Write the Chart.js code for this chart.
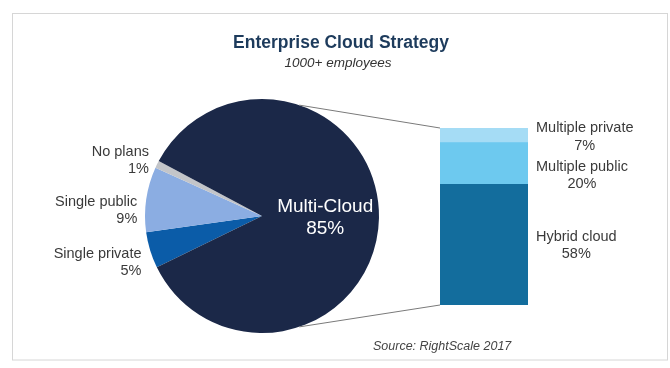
<!DOCTYPE html>
<html><head><meta charset="utf-8">
<script src="https://cdn.jsdelivr.net/npm/chart.js@4"></script>
<style>
html,body{margin:0;padding:0;background:#fff;}
#wrap{position:relative;width:670px;height:368px;overflow:hidden;}
canvas{position:absolute;left:0;top:0;}
</style></head><body>
<div id="wrap"><canvas id="pie" width="670" height="368"></canvas><canvas id="bar" width="670" height="368"></canvas></div>
<script>
// ---- data ----
const pieLabels = ['Single private', 'Single public', 'No plans', 'Multi-Cloud'];
const pieValues = [5, 9, 1, 85];
const pieColors = ['#0b5ca8', '#8badE2', '#c3c5c9', '#1b2848'];
const barLabels = ['Hybrid cloud', 'Multiple public', 'Multiple private'];
const barValues = [58, 20, 7];
const barColors = ['#136d9d', '#6dc9ef', '#a5dcf5'];
const titleText = 'Enterprise Cloud Strategy';
const subtitleText = '1000+ employees';
const sourceText = 'Source: RightScale 2017';

const TEXT = '#3a3a3a';
const FONT = '"Liberation Sans", Arial, sans-serif';
let pieChart;

function arcGeom(chart) {
  const a = chart.getDatasetMeta(0).data[0];
  return {x: a.x, y: a.y, r: a.outerRadius};
}

const piePlugin = {
  id: 'pieDecor',
  afterDraw(chart) {
    const ctx = chart.ctx;
    ctx.save();
    // frame
    ctx.strokeStyle = '#d6d6d6';
    ctx.lineWidth = 1;
    ctx.strokeRect(12.5, 13.5, 655, 346.5);
    // title
    ctx.fillStyle = '#1d3b5c';
    ctx.textAlign = 'center';
    ctx.textBaseline = 'middle';
    ctx.font = 'bold 17.5px ' + FONT;
    ctx.fillText(titleText, 341, 43);
    ctx.fillStyle = '#333';
    ctx.font = 'italic 13.5px ' + FONT;
    ctx.fillText(subtitleText, 338, 63);

    // slice labels
    const meta = chart.getDatasetMeta(0);
    const g = arcGeom(chart);
    const nudge = [10, 12, 0];
    ctx.font = '14.5px ' + FONT;
    meta.data.forEach((arc, i) => {
      const mid = (arc.startAngle + arc.endAngle) / 2;
      const pct = pieValues[i] + '%';
      if (i === pieValues.length - 1) {
        const cx = g.x + Math.cos(mid) * g.r * 0.54;
        const cy = g.y + Math.sin(mid) * g.r * 0.54;
        ctx.fillStyle = '#ffffff';
        ctx.textAlign = 'center';
        ctx.font = '19px ' + FONT;
        ctx.fillText(pieLabels[i], cx, cy - 10);
        ctx.fillText(pct, cx, cy + 12);
        ctx.font = '14.5px ' + FONT;
        return;
      }
      const lx = g.x + Math.cos(mid) * (g.r + 9);
      const ly = g.y + Math.sin(mid) * (g.r + 9) + nudge[i];
      ctx.fillStyle = TEXT;
      ctx.textAlign = 'right';
      ctx.fillText(pieLabels[i], lx, ly - 8.5);
      ctx.fillText(pct, lx, ly + 8.5);
    });
    ctx.restore();
  }
};

const barPlugin = {
  id: 'barDecor',
  afterDraw(chart) {
    const ctx = chart.ctx;
    ctx.save();
    const g = arcGeom(pieChart);
    const first = chart.getDatasetMeta(0).data[0];
    const last = chart.getDatasetMeta(barValues.length - 1).data[0];
    const left = first.x - first.width / 2;
    const right = first.x + first.width / 2;
    const top = last.y;
    const bottom = first.base;
    const ang = 71.4 * Math.PI / 180;
    ctx.strokeStyle = '#7a7a7a';
    ctx.lineWidth = 1;
    ctx.beginPath();
    ctx.moveTo(g.x + Math.cos(-ang) * g.r, g.y + Math.sin(-ang) * g.r);
    ctx.lineTo(left, top);
    ctx.moveTo(g.x + Math.cos(ang) * g.r, g.y + Math.sin(ang) * g.r);
    ctx.lineTo(left, bottom);
    ctx.stroke();

    // segment labels
    const nudge = [1, 12, 1.5];
    ctx.font = '14.5px ' + FONT;
    ctx.fillStyle = TEXT;
    ctx.textAlign = 'center';
    ctx.textBaseline = 'middle';
    barLabels.forEach((lab, i) => {
      const el = chart.getDatasetMeta(i).data[0];
      const cy = (el.y + el.base) / 2 + nudge[i];
      const pct = barValues[i] + '%';
      const w = Math.max(ctx.measureText(lab).width, ctx.measureText(pct).width);
      const cx = right + 8 + w / 2;
      ctx.fillText(lab, cx, cy - 8.75);
      ctx.fillText(pct, cx, cy + 8.75);
    });

    // source
    ctx.font = 'italic 12.5px ' + FONT;
    ctx.fillStyle = '#444';
    ctx.textAlign = 'left';
    ctx.fillText(sourceText, 373, 347);
    ctx.restore();
  }
};

pieChart = new Chart(document.getElementById('pie'), {
  type: 'pie',
  data: {labels: pieLabels, datasets: [{data: pieValues, backgroundColor: pieColors, borderWidth: 0}]},
  options: {
    responsive: false, animation: false, devicePixelRatio: 1, rotation: 244,
    layout: {padding: {left: 145, right: 291, top: 99, bottom: 35}},
    plugins: {legend: {display: false}, tooltip: {enabled: false}, title: {display: false}}
  },
  plugins: [piePlugin]
});

const barTotal = barValues.reduce((a, b) => a + b, 0);
new Chart(document.getElementById('bar'), {
  type: 'bar',
  data: {
    labels: [''],
    datasets: barLabels.map((l, i) => ({
      label: l, data: [barValues[i]], backgroundColor: barColors[i], borderWidth: 0,
      barPercentage: 1, categoryPercentage: 1
    }))
  },
  options: {
    responsive: false, animation: false, devicePixelRatio: 1,
    layout: {padding: {left: 440, right: 142, top: 128, bottom: 63}},
    scales: {
      x: {stacked: true, display: false},
      y: {stacked: true, display: false, min: 0, max: barTotal}
    },
    plugins: {legend: {display: false}, tooltip: {enabled: false}}
  },
  plugins: [barPlugin]
});
</script>
</body></html>
